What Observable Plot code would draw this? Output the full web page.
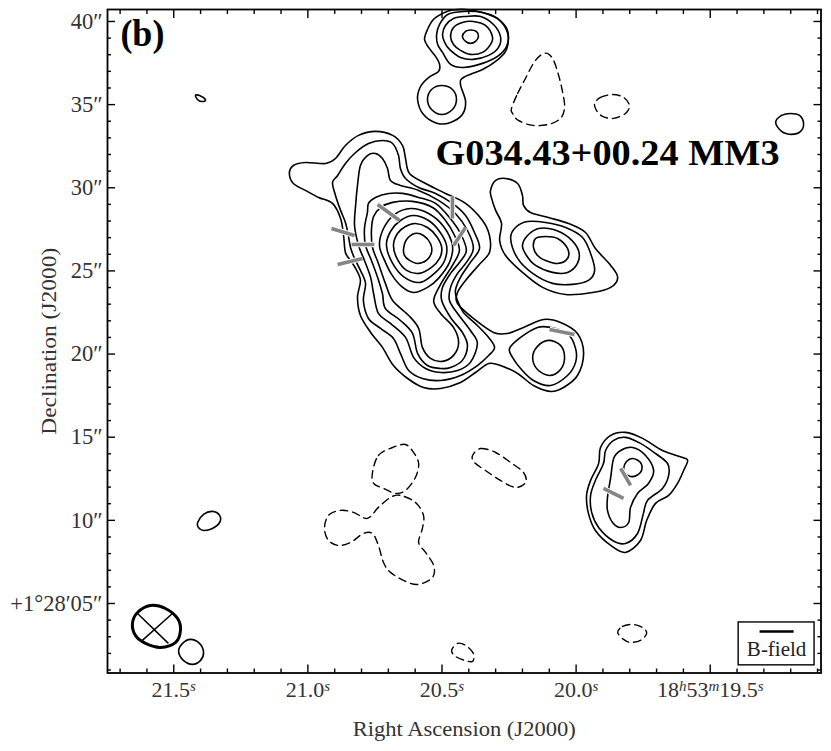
<!DOCTYPE html>
<html>
<head>
<meta charset="utf-8">
<script src="https://cdn.jsdelivr.net/npm/d3@7"></script>
<script src="https://cdn.jsdelivr.net/npm/@observablehq/plot@0.6"></script>
<style>
html,body{margin:0;padding:0;background:#fff}
svg{display:block}
</style>
</head>
<body>
<div id="chart"></div>
<script>
// Axis values
const raDomain = [21.747, 19.087];
const decDomain = [0.82, 40.72];
const raMajor = [21.5, 21.0, 20.5, 20.0, 19.5];
const raLabels = ["21.5^s", "21.0^s", "20.5^s", "20.0^s", "18^h53^m19.5^s"];
const raMinor = [21.7,21.6,21.4,21.3,21.2,21.1,20.9,20.8,20.7,20.6,20.4,20.3,20.2,20.1,19.9,19.8,19.7,19.6,19.4,19.3,19.2,19.1];
const decMajor = [40,35,30,25,20,15,10,5];
const decLabels = ["40″","35″","30″","25″","20″","15″","10″","+1°28′05″"];
const decMinor = [1,2,3,4,6,7,8,9,11,12,13,14,16,17,18,19,21,22,23,24,26,27,28,29,31,32,33,34,36,37,38,39];

// Solid contours [RA s, Dec arcsec]
const topPeak1 = [[20.424,39.10],[20.412,39.40],[20.394,39.49],[20.372,39.40],[20.364,39.10],[20.375,38.80],[20.394,38.68],[20.412,38.80]];
const topPeak2 = [[20.468,39.10],[20.457,39.64],[20.424,39.94],[20.383,40.00],[20.338,39.76],[20.312,39.10],[20.319,38.62],[20.349,38.14],[20.394,38.02],[20.431,38.26],[20.457,38.62]];
const topPeak3 = [[20.498,39.22],[20.487,39.76],[20.457,40.18],[20.412,40.30],[20.356,40.30],[20.308,39.82],[20.282,39.10],[20.289,38.44],[20.326,37.96],[20.383,37.72],[20.431,37.84],[20.472,38.32],[20.490,38.74]];
const topPeak4 = [[20.520,39.22],[20.509,39.82],[20.479,40.42],[20.420,40.60],[20.349,40.54],[20.293,40.18],[20.256,39.34],[20.259,38.50],[20.293,37.90],[20.349,37.48],[20.420,37.23],[20.468,37.42],[20.498,38.14],[20.516,38.62]];
const topOuter = [[20.565,38.92],[20.554,39.52],[20.532,40.12],[20.498,40.48],[20.461,40.69],[20.394,40.69],[20.308,40.30],[20.263,39.70],[20.252,39.04],[20.263,38.20],[20.300,37.60],[20.349,37.11],[20.420,36.63],[20.431,36.21],[20.412,35.19],[20.424,34.41],[20.468,33.93],[20.516,33.87],[20.569,34.41],[20.591,35.31],[20.580,36.09],[20.550,36.63],[20.513,36.99],[20.509,37.42],[20.524,37.90],[20.550,38.44]];
const topLobe = [[20.554,35.31],[20.539,35.91],[20.501,36.15],[20.461,35.91],[20.446,35.31],[20.461,34.71],[20.501,34.41],[20.539,34.71]];

const mainLevel0 = [[21.069,30.86],[21.054,31.34],[21.009,31.52],[20.934,31.46],[20.897,31.76],[20.860,32.54],[20.811,33.15],[20.748,33.39],[20.684,33.15],[20.647,32.54],[20.636,31.76],[20.621,30.86],[20.561,30.26],[20.487,29.66],[20.412,29.06],[20.349,28.03],[20.323,27.13],[20.323,26.11],[20.364,25.33],[20.412,24.43],[20.442,23.70],[20.442,23.04],[20.383,22.14],[20.308,21.30],[20.256,21.24],[20.196,21.60],[20.121,22.08],[20.058,21.90],[19.995,21.24],[19.972,20.04],[19.995,18.71],[20.047,17.99],[20.095,17.75],[20.159,18.11],[20.218,18.83],[20.282,19.31],[20.326,19.43],[20.375,18.89],[20.431,18.29],[20.505,17.93],[20.569,17.99],[20.628,18.53],[20.681,19.31],[20.722,20.40],[20.766,21.30],[20.804,22.32],[20.815,23.40],[20.804,24.43],[20.822,25.15],[20.841,25.63],[20.860,26.11],[20.867,27.13],[20.878,28.15],[20.908,29.06],[20.960,29.42],[21.009,29.84],[21.054,30.26]];
const mainLevel1 = [[20.908,30.32],[20.889,30.74],[20.860,31.46],[20.822,32.12],[20.774,32.66],[20.722,32.84],[20.684,32.66],[20.662,31.94],[20.655,31.16],[20.636,30.56],[20.587,30.02],[20.524,29.66],[20.461,29.06],[20.412,28.33],[20.379,27.31],[20.360,26.35],[20.394,25.51],[20.431,24.61],[20.450,23.82],[20.442,23.22],[20.420,22.50],[20.368,21.72],[20.326,21.00],[20.304,20.40],[20.326,19.91],[20.368,19.31],[20.431,18.71],[20.505,18.41],[20.573,18.53],[20.624,19.01],[20.655,20.04],[20.681,20.94],[20.729,21.54],[20.774,22.14],[20.793,23.22],[20.785,24.25],[20.804,25.03],[20.826,25.75],[20.841,26.41],[20.849,27.13],[20.860,27.91],[20.878,28.64],[20.897,29.54]];
const mainLevel2 = [[20.822,28.94],[20.815,30.14],[20.804,31.34],[20.778,31.94],[20.748,32.06],[20.722,31.76],[20.703,31.16],[20.692,30.44],[20.655,30.14],[20.587,29.84],[20.513,29.24],[20.450,28.45],[20.405,27.43],[20.383,26.35],[20.409,25.51],[20.442,24.85],[20.468,24.01],[20.472,23.22],[20.442,22.44],[20.394,21.42],[20.368,20.64],[20.394,19.50],[20.442,19.01],[20.505,18.89],[20.561,19.13],[20.606,19.80],[20.636,21.00],[20.692,21.84],[20.737,22.44],[20.755,23.64],[20.766,24.61],[20.789,25.63],[20.811,26.53],[20.826,27.73]];
const mainLevel3 = [[20.778,28.51],[20.774,29.06],[20.748,29.42],[20.699,29.66],[20.647,29.66],[20.587,29.42],[20.524,29.06],[20.472,28.21],[20.431,27.25],[20.409,26.23],[20.435,25.51],[20.468,24.85],[20.498,24.01],[20.501,23.22],[20.468,22.20],[20.424,21.30],[20.405,20.52],[20.424,19.62],[20.468,19.19],[20.505,19.13],[20.554,19.31],[20.591,20.04],[20.610,21.24],[20.655,22.02],[20.711,22.74],[20.722,23.64],[20.740,24.61],[20.763,25.63],[20.785,26.53],[20.789,27.55]];
const mainLevel4 = [[20.755,28.27],[20.729,28.81],[20.684,29.12],[20.610,29.18],[20.535,28.81],[20.487,28.03],[20.453,27.13],[20.435,26.23],[20.461,25.33],[20.501,24.31],[20.531,23.22],[20.505,22.44],[20.457,21.60],[20.438,20.70],[20.457,19.92],[20.498,19.56],[20.543,19.74],[20.573,20.40],[20.587,21.54],[20.624,22.32],[20.684,23.22],[20.711,24.25],[20.737,25.45],[20.759,26.41],[20.763,27.43]];
const mainRing3 = [[20.733,26.53],[20.718,27.55],[20.677,28.39],[20.617,28.75],[20.550,28.45],[20.494,27.67],[20.461,26.53],[20.472,25.51],[20.513,24.55],[20.554,24.01],[20.606,23.70],[20.651,24.07],[20.688,24.79],[20.714,25.63]];
const mainRing2 = [[20.707,26.53],[20.692,27.37],[20.655,28.03],[20.606,28.33],[20.550,28.03],[20.509,27.37],[20.483,26.53],[20.490,25.63],[20.524,24.91],[20.580,24.31],[20.640,24.61],[20.684,25.45]];
const mainRing1 = [[20.681,26.53],[20.666,27.25],[20.636,27.67],[20.599,27.85],[20.554,27.61],[20.520,27.07],[20.501,26.41],[20.509,25.75],[20.539,25.21],[20.584,24.85],[20.632,25.03],[20.666,25.69]];
const mainPeak = [[20.643,26.35],[20.632,26.89],[20.602,27.25],[20.569,27.13],[20.543,26.65],[20.539,26.11],[20.558,25.63],[20.591,25.45],[20.621,25.63],[20.640,25.93]];
const southRing = [[20.248,20.34],[20.207,21.00],[20.144,21.60],[20.095,21.60],[20.032,21.24],[20.002,20.34],[20.002,19.50],[20.032,18.71],[20.095,18.11],[20.159,18.41],[20.207,19.13],[20.237,19.80]];
const southPeak = [[20.162,19.80],[20.144,20.46],[20.103,20.82],[20.058,20.52],[20.043,19.80],[20.058,19.07],[20.099,18.71],[20.144,19.07]];

const eastOuter = [[20.319,29.84],[20.300,30.44],[20.263,30.56],[20.218,30.26],[20.200,29.54],[20.196,28.94],[20.170,28.51],[20.103,28.21],[20.028,27.85],[19.965,27.31],[19.928,26.35],[19.871,25.33],[19.845,24.61],[19.871,24.01],[19.939,23.70],[20.039,23.58],[20.125,24.01],[20.200,24.91],[20.263,25.93],[20.285,26.83],[20.278,27.85],[20.300,28.64],[20.315,29.36]];
const eastRing1 = [[20.244,26.95],[20.226,27.61],[20.181,27.97],[20.114,27.91],[20.039,27.61],[19.976,27.01],[19.946,26.05],[19.931,25.03],[19.954,24.43],[20.013,24.19],[20.088,24.25],[20.162,24.85],[20.218,25.75]];
const eastRing2 = [[20.200,26.53],[20.181,27.13],[20.140,27.55],[20.084,27.49],[20.028,27.01],[19.991,26.23],[19.995,25.45],[20.032,24.91],[20.088,24.91],[20.151,25.33],[20.185,25.93]];
const eastPeak = [[20.159,26.41],[20.151,26.95],[20.114,27.07],[20.069,26.95],[20.032,26.35],[20.032,25.75],[20.069,25.45],[20.114,25.63],[20.144,25.93]];

const lowerOuter = [[19.961,11.50],[19.946,12.40],[19.916,13.42],[19.909,14.38],[19.871,15.11],[19.816,15.29],[19.752,14.93],[19.678,14.20],[19.603,13.78],[19.584,13.60],[19.599,13.00],[19.622,12.22],[19.655,11.50],[19.704,11.02],[19.737,9.99],[19.760,8.79],[19.816,8.07],[19.871,8.49],[19.928,9.39],[19.954,10.42]];
const lowerRing1 = [[19.946,11.50],[19.928,12.40],[19.898,13.42],[19.890,14.20],[19.860,14.81],[19.816,14.99],[19.760,14.63],[19.704,14.02],[19.659,13.42],[19.655,12.70],[19.678,11.92],[19.734,11.20],[19.749,10.42],[19.771,9.21],[19.816,8.61],[19.864,8.79],[19.916,9.57],[19.942,10.48]];
const lowerRing2 = [[19.883,11.38],[19.871,12.58],[19.860,13.72],[19.834,14.20],[19.789,14.38],[19.741,13.90],[19.711,13.00],[19.730,12.22],[19.771,11.62],[19.797,10.78],[19.804,9.87],[19.834,9.57],[19.864,9.87],[19.883,10.60]];
const lowerPeak = [[19.823,13.12],[19.812,13.54],[19.789,13.72],[19.760,13.48],[19.756,13.00],[19.775,12.70],[19.797,12.64],[19.816,12.82]];

const blobNE = [[19.256,33.93],[19.234,34.35],[19.200,34.47],[19.167,34.35],[19.152,33.87],[19.163,33.39],[19.197,33.21],[19.234,33.39]];
const blobNW = [[21.419,35.55],[21.404,35.55],[21.382,35.31],[21.389,35.19],[21.408,35.25]];
const blobW = [[21.411,9.87],[21.389,10.36],[21.356,10.54],[21.329,10.30],[21.329,9.87],[21.356,9.51],[21.389,9.39],[21.408,9.57]];
const blobSW = [[21.482,2.12],[21.467,2.60],[21.438,2.84],[21.404,2.60],[21.389,2.06],[21.400,1.58],[21.430,1.34],[21.464,1.58]];

// Dashed (negative) contours
const negTop = [[20.241,34.77],[20.218,35.67],[20.189,36.57],[20.159,37.48],[20.133,37.96],[20.107,38.08],[20.084,37.66],[20.065,36.75],[20.050,35.73],[20.043,34.83],[20.058,34.17],[20.103,33.81],[20.162,33.75],[20.215,34.05],[20.237,34.47]];
const negTopRight = [[19.931,35.07],[19.909,35.43],[19.864,35.61],[19.823,35.43],[19.801,34.95],[19.816,34.47],[19.860,34.17],[19.901,34.29],[19.924,34.65]];
const negLoop = [[20.759,12.88],[20.737,13.90],[20.684,14.38],[20.636,14.56],[20.606,14.08],[20.587,13.42],[20.599,12.58],[20.636,11.80],[20.673,11.62],[20.718,11.92],[20.755,12.22]];
const negTrefoil = [[20.655,11.50],[20.599,11.08],[20.569,10.30],[20.573,9.51],[20.587,8.67],[20.561,8.07],[20.531,7.29],[20.535,6.57],[20.587,6.15],[20.636,6.33],[20.692,6.87],[20.718,7.47],[20.737,8.49],[20.759,9.21],[20.793,9.21],[20.841,8.67],[20.886,8.49],[20.923,8.79],[20.938,9.51],[20.923,10.30],[20.878,10.60],[20.830,10.48],[20.778,10.12],[20.737,10.78],[20.692,11.38]];
const negMid = [[20.386,13.90],[20.356,14.32],[20.300,14.08],[20.244,13.48],[20.196,12.88],[20.188,12.28],[20.226,11.98],[20.282,12.40],[20.338,13.00],[20.379,13.48]];
const negBottomRight = [[19.845,3.26],[19.827,3.62],[19.789,3.74],[19.752,3.56],[19.737,3.20],[19.760,2.78],[19.797,2.66],[19.823,2.84]];
const negBottom = [[20.464,2.18],[20.442,2.60],[20.412,2.48],[20.383,2.00],[20.386,1.52],[20.416,1.58],[20.450,1.82]];

const solidContours = [topOuter,topPeak4,topPeak3,topPeak2,topPeak1,topLobe,mainLevel0,mainLevel1,mainLevel2,mainLevel3,mainLevel4,mainRing3,mainRing2,mainRing1,mainPeak,southRing,southPeak,eastOuter,eastRing1,eastRing2,eastPeak,lowerOuter,lowerRing1,lowerRing2,lowerPeak,blobNE,blobNW,blobW,blobSW];
const dashedContours = [negTop,negTopRight,negLoop,negTrefoil,negMid,negBottomRight,negBottom];

// Synthesized beam
const beam = [[21.654,3.80],[21.635,4.46],[21.587,4.88],[21.531,4.70],[21.486,4.10],[21.475,3.38],[21.493,2.66],[21.549,2.36],[21.605,2.60],[21.643,3.08]];
const beamCross = [{x1:21.635,y1:4.40,x2:21.520,y2:2.60},{x1:21.505,y1:4.40,x2:21.617,y2:2.78}];

// B-field segments
const bField = [
  {x1:20.740,y1:28.99,x2:20.658,y2:28.03},
  {x1:20.912,y1:27.55,x2:20.826,y2:27.13},
  {x1:20.837,y1:26.59,x2:20.752,y2:26.59},
  {x1:20.889,y1:25.39,x2:20.796,y2:25.75},
  {x1:20.461,y1:29.48,x2:20.461,y2:28.15},
  {x1:20.412,y1:27.61,x2:20.457,y2:26.53},
  {x1:20.099,y1:21.48,x2:20.006,y2:21.18},
  {x1:19.834,y1:13.12,x2:19.797,y2:12.10},
  {x1:19.898,y1:11.92,x2:19.823,y2:11.32}
];

// Legend and labels
const legendBox = [{x1:19.394,x2:19.111,y1:1.28,y2:3.86}];
const legendBar = [{x1:19.316,x2:19.189,y1:3.32,y2:3.32}];
const legendText = [{x:19.2525,y:2.25,t:"B-field"}];
const panelLabel = [{x:21.699,y:38.50,t:"(b)"}];
const sourceLabel = [{x:20.524,y:31.34,t:"G034.43+00.24 MM3"}];
const xAxisTitle = "Right Ascension (J2000)";
const yAxisTitle = "Declination (J2000)";

const px = d => d[0], py = d => d[1];
const serif = "'Liberation Serif','DejaVu Serif',serif";
const contourCurve = {curve: "cardinal-closed", tension: 0};

const chart = Plot.plot({
  width: 831,
  height: 751,
  marginLeft: 107,
  marginRight: 10.5,
  marginTop: 9,
  marginBottom: 78.5,
  style: {fontFamily: serif, fontSize: "20px", background: "#fff", color: "#000"},
  x: {domain: raDomain},
  y: {domain: decDomain},
  marks: [
    ...solidContours.map(c => Plot.line(c, {x: px, y: py, ...contourCurve, stroke: "#000", strokeWidth: 1.6})),
    ...dashedContours.map(c => Plot.line(c, {x: px, y: py, ...contourCurve, stroke: "#000", strokeWidth: 1.4, strokeDasharray: "7.5,5"})),
    Plot.link(bField, {x1:"x1", y1:"y1", x2:"x2", y2:"y2", stroke:"#fff", strokeWidth:5.5}),
    Plot.link(bField, {x1:"x1", y1:"y1", x2:"x2", y2:"y2", stroke:"#858585", strokeWidth:3.6}),
    Plot.line(beam, {x: px, y: py, ...contourCurve, stroke: "#000", strokeWidth: 3}),
    Plot.link(beamCross, {x1:"x1", y1:"y1", x2:"x2", y2:"y2", stroke:"#000", strokeWidth:1.5}),
    Plot.rect(legendBox, {x1:"x1", x2:"x2", y1:"y1", y2:"y2", fill:"#fff", stroke:"#000", strokeWidth:1.4}),
    Plot.link(legendBar, {x1:"x1", y1:"y1", x2:"x2", y2:"y2", stroke:"#000", strokeWidth:2.6}),
    Plot.text(legendText, {x:"x", y:"y", text:"t", fontSize:21, fill:"#222"}),
    Plot.text(panelLabel, {x:"x", y:"y", text:"t", textAnchor:"start", lineAnchor:"bottom", fontSize:37, fontWeight:"bold", className:"panel-label"}),
    Plot.text(sourceLabel, {x:"x", y:"y", text:"t", textAnchor:"start", lineAnchor:"bottom", fontSize:36, fontWeight:"bold", className:"source-label"}),
    // major and minor ticks, pointing inward on all four sides
    ...["bottom","top"].flatMap(a => [
      Plot.axisX(raMajor, {anchor:a, tickSize:-8, tickFormat:()=>"", label:null, strokeWidth:1.4}),
      Plot.axisX(raMinor, {anchor:a, tickSize:-4, tickFormat:()=>"", label:null, strokeWidth:1.4})
    ]),
    ...["left","right"].flatMap(a => [
      Plot.axisY(decMajor, {anchor:a, tickSize:-8, tickFormat:()=>"", label:null, strokeWidth:1.4}),
      Plot.axisY(decMinor, {anchor:a, tickSize:-4, tickFormat:()=>"", label:null, strokeWidth:1.4})
    ]),
    Plot.axisX(raMajor, {anchor:"bottom", tickSize:0, tickPadding:8, tickFormat:d=>raLabels[raMajor.indexOf(d)], fontSize:22, fill:"#333", label:xAxisTitle, labelAnchor:"center", labelArrow:"none", labelOffset:63}),
    Plot.axisY(decMajor, {anchor:"left", tickSize:0, tickPadding:5, tickFormat:d=>decLabels[decMajor.indexOf(d)], fontSize:22.5, fill:"#333", label:yAxisTitle, labelAnchor:"center", labelArrow:"none", labelOffset:67}),
    Plot.frame({stroke:"#000", strokeWidth:1.8})
  ]
});

// Wide bold face and axis title widths
const stretch = (t, w) => { t.setAttribute("textLength", w); t.setAttribute("lengthAdjust", "spacingAndGlyphs"); };
chart.querySelectorAll("text").forEach(t => {
  const s = t.textContent;
  if (s === sourceLabel[0].t) stretch(t, 344);
  if (s === panelLabel[0].t) stretch(t, 44);
  if (s === xAxisTitle) { t.setAttribute("font-size", "22"); stretch(t, 223); }
  if (s === yAxisTitle) { t.setAttribute("font-size", "22"); stretch(t, 187); }
});

// Superscript units on the RA tick labels
chart.querySelectorAll("text").forEach(t => {
  if (!t.textContent.includes("^")) return;
  const parts = t.textContent.split(/\^(.)/);
  t.textContent = "";
  parts.forEach((p, i) => {
    if (!p) return;
    const s = document.createElementNS("http://www.w3.org/2000/svg", "tspan");
    s.textContent = p;
    if (i % 2) {
      s.setAttribute("baseline-shift", "38%");
      s.setAttribute("font-size", "15");
      s.setAttribute("font-style", "italic");
    }
    t.appendChild(s);
  });
});

document.getElementById("chart").appendChild(chart);
</script>
</body>
</html>
